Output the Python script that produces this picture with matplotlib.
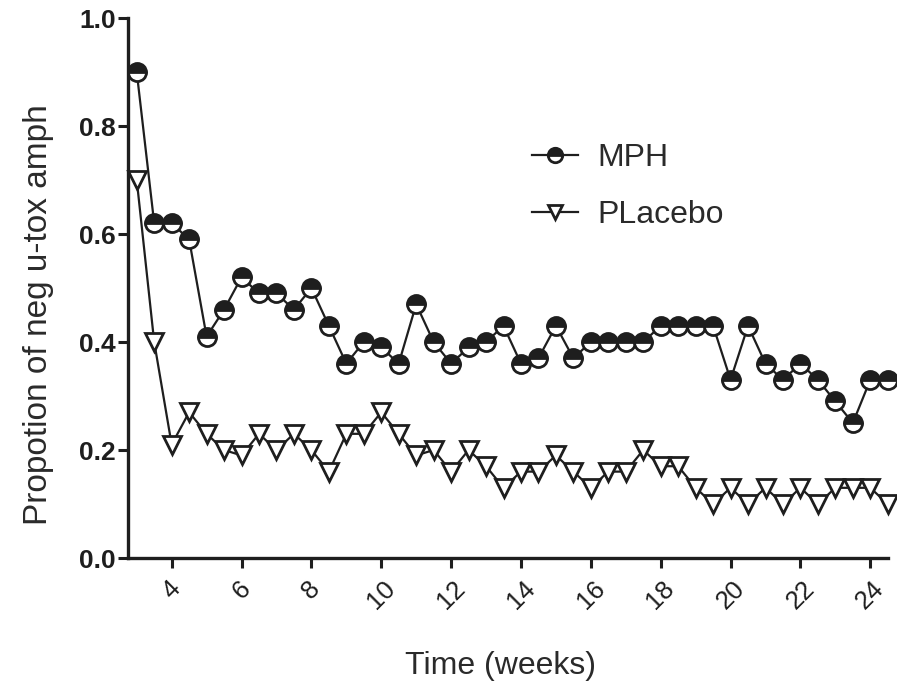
import numpy as np
import matplotlib
matplotlib.use('Agg')
import matplotlib.pyplot as plt

plt.rcParams['font.family'] = ['Liberation Sans', 'DejaVu Sans']

# weeks, one point every half week
weeks = [3, 3.5, 4, 4.5, 5, 5.5, 6, 6.5, 7, 7.5, 8, 8.5, 9, 9.5, 10, 10.5,
         11, 11.5, 12, 12.5, 13, 13.5, 14, 14.5, 15, 15.5, 16, 16.5, 17, 17.5,
         18, 18.5, 19, 19.5, 20, 20.5, 21, 21.5, 22, 22.5, 23, 23.5, 24, 24.5]

mph = [0.90, 0.62, 0.62, 0.59, 0.41, 0.46, 0.52, 0.49, 0.49, 0.46, 0.50, 0.43,
       0.36, 0.40, 0.39, 0.36, 0.47, 0.40, 0.36, 0.39, 0.40, 0.43, 0.36, 0.37,
       0.43, 0.37, 0.40, 0.40, 0.40, 0.40, 0.43, 0.43, 0.43, 0.43, 0.33, 0.43,
       0.36, 0.33, 0.36, 0.33, 0.29, 0.25, 0.33, 0.33]

placebo = [0.70, 0.40, 0.21, 0.27, 0.23, 0.20, 0.19, 0.23, 0.20, 0.23, 0.20, 0.16,
           0.23, 0.23, 0.27, 0.23, 0.19, 0.20, 0.16, 0.20, 0.17, 0.13, 0.16, 0.16,
           0.19, 0.16, 0.13, 0.16, 0.16, 0.20, 0.17, 0.17, 0.13, 0.10, 0.13, 0.10,
           0.13, 0.10, 0.13, 0.10, 0.13, 0.13, 0.13, 0.10]

x_ticks = [4, 6, 8, 10, 12, 14, 16, 18, 20, 22, 24]
y_ticks = [0.0, 0.2, 0.4, 0.6, 0.8, 1.0]

INK = '#1e1e1e'
TXT = '#2a2a2a'

fig = plt.figure(figsize=(8.97, 6.83), dpi=100)
ax = fig.add_axes([0.1427, 0.183, 0.847, 0.7906])

ax.plot(weeks, mph, color=INK, lw=1.6, marker='o', ms=13,
        fillstyle='top', markerfacecolor=INK, markerfacecoloralt='white',
        markeredgecolor=INK, mew=2.0, label='MPH', zorder=3, clip_on=False)
ax.plot(weeks, placebo, color=INK, lw=1.6, marker='v', ms=12.5,
        markerfacecolor='white', markeredgecolor=INK, mew=2.0,
        label='PLacebo', zorder=3, clip_on=False)

ax.set_xlim(2.75, 24.5)
ax.set_ylim(0, 1.0)
ax.set_xticks(x_ticks)
ax.set_yticks(y_ticks)
ax.set_yticklabels([f'{v:.1f}' for v in y_ticks], fontsize=19,
                   fontweight='bold', color=INK)
ax.set_xticklabels([str(v) for v in x_ticks], fontsize=18.5, rotation=45,
                   ha='center', va='top', color=INK)

for side in ('top', 'right'):
    ax.spines[side].set_visible(False)
for side in ('left', 'bottom'):
    ax.spines[side].set_linewidth(2.4)
    ax.spines[side].set_color(INK)
ax.tick_params(axis='both', direction='out', width=2.2, length=7, color=INK)
ax.tick_params(axis='x', pad=6)
ax.tick_params(axis='y', pad=2)

ax.set_xlabel('Time (weeks)', fontsize=23, color=TXT)
ax.xaxis.set_label_coords(0.49, -0.172)
ax.set_ylabel('Propotion of neg u-tox amph', fontsize=24, color=TXT)
ax.yaxis.set_label_coords(-0.097, 0.45)

ax.legend(loc='upper left', bbox_to_anchor=(532 / 897, 1 - 143 / 683),
          bbox_transform=fig.transFigure, frameon=False, fontsize=23,
          borderpad=0, borderaxespad=0, handlelength=1.45, handletextpad=0.6,
          labelspacing=0.84, markerscale=0.8, labelcolor=TXT)

fig.savefig('out.png', dpi=100)
